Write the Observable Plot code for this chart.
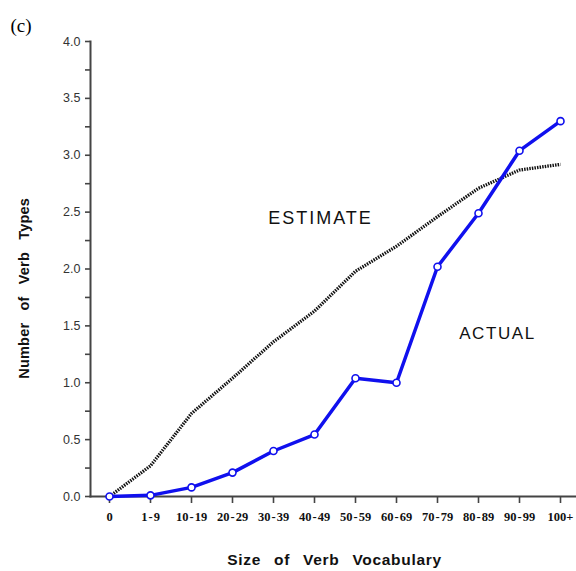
<!DOCTYPE html>
<html>
<head>
<meta charset="utf-8">
<script src="https://cdn.jsdelivr.net/npm/d3@7"></script>
<script src="https://cdn.jsdelivr.net/npm/@observablehq/plot@0.6"></script>
<style>
  html, body { margin: 0; padding: 0; background: #fff; }
  #chart { width: 576px; height: 571px; }
</style>
</head>
<body>
<div id="chart"></div>
<script>
const categories = ["0", "1-9", "10-19", "20-29", "30-39", "40-49", "50-59", "60-69", "70-79", "80-89", "90-99", "100+"];
const actualValues = [0.0, 0.01, 0.08, 0.21, 0.40, 0.545, 1.04, 1.00, 2.02, 2.49, 3.04, 3.30];
const estimateValues = [0.0, 0.27, 0.73, 1.04, 1.36, 1.63, 1.98, 2.20, 2.46, 2.71, 2.87, 2.92];
const yMajorTicks = [0, 0.5, 1.0, 1.5, 2.0, 2.5, 3.0, 3.5, 4.0];
const yMinorTicks = [0.25, 0.75, 1.25, 1.75, 2.25, 2.75, 3.25, 3.75];

const actual = categories.map((c, i) => ({cat: c, y: actualValues[i]}));
const estimate = categories.map((c, i) => ({cat: c, y: estimateValues[i]}));

const axisColor = "#444";
const sans = "Liberation Sans, Arial, sans-serif";
const serif = "Liberation Serif, Times New Roman, serif";

const chart = Plot.plot({
  width: 576,
  height: 571,
  marginLeft: 90,
  marginRight: 0,
  marginTop: 41,
  marginBottom: 75,
  style: {background: "#fff", overflow: "visible"},
  x: {type: "point", domain: categories, range: [109, 560], padding: 0, label: null, axis: null},
  y: {domain: [0, 4], label: null, axis: null},
  marks: [
    Plot.frame({anchor: "left", stroke: axisColor, strokeWidth: 2}),
    Plot.frame({anchor: "bottom", stroke: axisColor, strokeWidth: 2}),
    Plot.axisY({
      ticks: yMajorTicks, tickSize: 5, stroke: axisColor, strokeWidth: 1.6,
      tickFormat: d3.format(".1f"), tickPadding: 5, label: null,
      fontFamily: sans, fontSize: 12.5, fill: "#333"
    }),
    Plot.axisY({
      ticks: yMinorTicks, tickSize: 5, stroke: axisColor, strokeWidth: 1.6,
      tickFormat: () => "", label: null
    }),
    Plot.axisX({
      tickSize: 7, stroke: axisColor, strokeWidth: 1.6, tickPadding: 9, label: null,
      fontFamily: serif, fontWeight: "bold", fontSize: 12.5,
      fill: "#111", tickFormat: d => d.replace("-", "\u200a-\u200a")
    }),
    // estimate line (dotted)
    Plot.line(estimate, {
      x: "cat", y: "y", stroke: "#111", strokeWidth: 3.3, strokeDasharray: "1.5,1.1",
      strokeLinecap: "butt"
    }),
    // actual line
    Plot.line(actual, {x: "cat", y: "y", stroke: "#1010ee", strokeWidth: 3.5}),
    Plot.dot(actual, {x: "cat", y: "y", r: 3.5, fill: "#fff", stroke: "#1010ee", strokeWidth: 1.6}),
    // series labels
    Plot.text(["ESTIMATE"], {
      x: () => "40-49", y: () => 2.45, dx: 6, text: d => d,
      fontFamily: sans, fontSize: 18, fill: "#111", textAnchor: "middle"
    }),
    Plot.text(["ACTUAL"], {
      x: () => "80-89", y: () => 1.43, dx: 19, text: d => d,
      fontFamily: sans, fontSize: 17, fill: "#111", textAnchor: "middle"
    }),
    // axis titles
    Plot.text(["Number of Verb Types"], {
      frameAnchor: "left", dx: -66, y: () => 1.83, text: d => d, rotate: -90,
      textAnchor: "middle",
      fontFamily: sans, fontSize: 14.5, fontWeight: "bold", fill: "#111"
    }),
    Plot.text(["Size of Verb Vocabulary"], {
      frameAnchor: "bottom", dy: 68, dx: 1, text: d => d, textAnchor: "middle",
      fontFamily: sans, fontSize: 15.5, fontWeight: "bold", fill: "#111"
    }),
    Plot.text(["(c)"], {
      frameAnchor: "top-left", dx: -80, dy: -23, text: d => d,
      fontFamily: serif, fontSize: 19, fill: "#000",
      textAnchor: "start"
    })
  ]
});

// letter / word spacing tweaks
d3.select(chart).selectAll("text").each(function() {
  const t = this.textContent;
  if (t === "ESTIMATE") this.style.letterSpacing = "2px";
  if (t === "ACTUAL") this.style.letterSpacing = "1.6px";
  if (t === "Number of Verb Types") { this.style.wordSpacing = "8px"; this.style.letterSpacing = "0.2px"; }
  if (t === "Size of Verb Vocabulary") { this.style.wordSpacing = "8px"; this.style.letterSpacing = "0.7px"; }
});

document.getElementById("chart").appendChild(chart);
</script>
</body>
</html>
